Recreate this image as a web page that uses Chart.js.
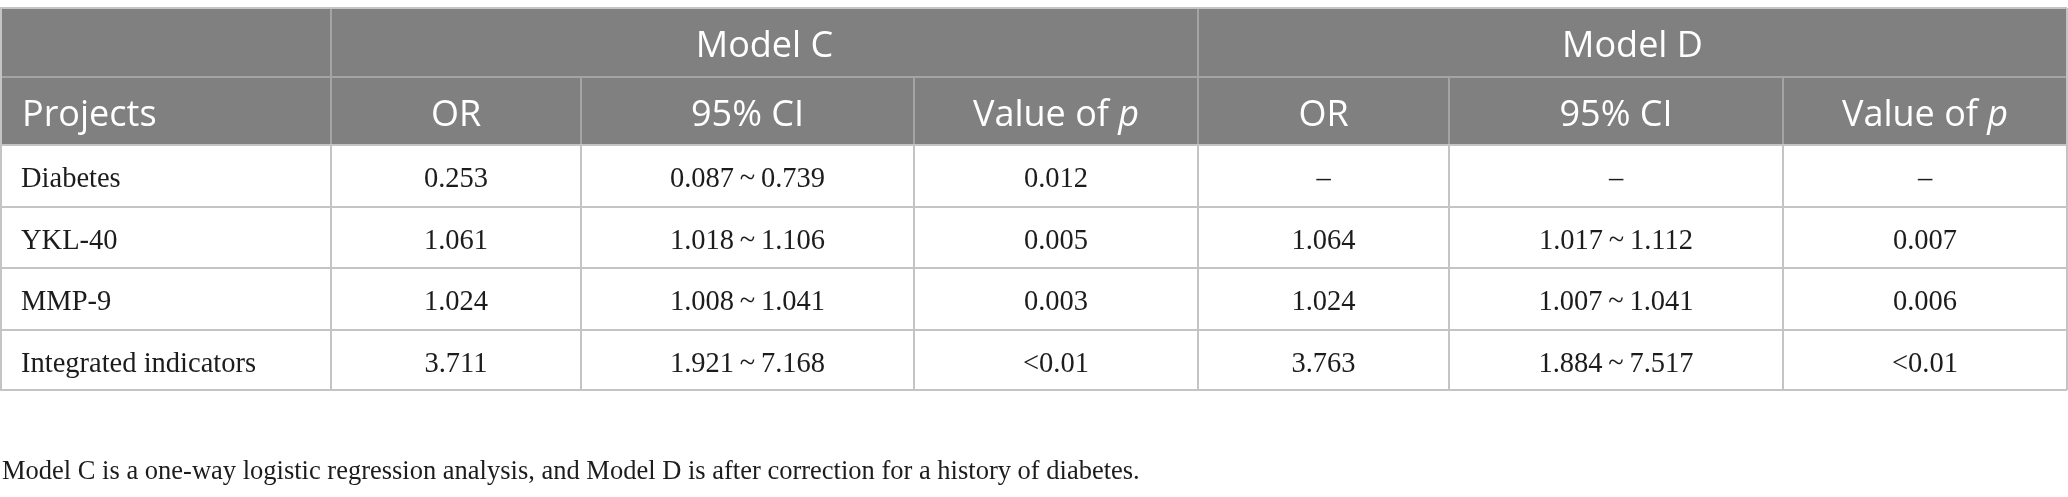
<!DOCTYPE html>
<html>
<head>
<meta charset="utf-8">
<script src="https://cdn.jsdelivr.net/npm/chart.js@4/dist/chart.umd.min.js"></script>
<style>
  html, body { margin: 0; padding: 0; background: #ffffff; }
  #wrap { position: relative; width: 2068px; height: 497px; }
</style>
</head>
<body>
<div id="wrap"><canvas id="c"></canvas></div>
<script>
// ---------- data ----------
const groupHeaders = ['Model C', 'Model D'];
const columnHeaders = ['Projects', 'OR', '95% CI', 'Value of p', 'OR', '95% CI', 'Value of p'];
const projects = ['Diabetes', 'YKL-40', 'MMP-9', 'Integrated indicators'];
const modelC_OR = [0.253, 1.061, 1.024, 3.711];
const modelC_CI_low = [0.087, 1.018, 1.008, 1.921];
const modelC_CI_high = [0.739, 1.106, 1.041, 7.168];
const modelC_p = ['0.012', '0.005', '0.003', '<0.01'];
const modelD_OR = [null, 1.064, 1.024, 3.763];
const modelD_CI_low = [null, 1.017, 1.007, 1.884];
const modelD_CI_high = [null, 1.112, 1.041, 7.517];
const modelD_p = ['–', '0.007', '0.006', '<0.01'];
const footnote = 'Model C is a one-way logistic regression analysis, and Model D is after correction for a history of diabetes.';

// ---------- layout (scale units) ----------
const COL_EDGES = [0, 331, 581, 914, 1198, 1449, 1783, 2067];
const ROW_EDGES = [8, 77, 145, 207, 268, 330, 390];
const HEADER_BG = '#7f807f';
const HEADER_LINE = '#a3a4a3';
const BODY_LINE = '#c4c4c4';
const SANS = '"Open Sans", "Noto Sans", sans-serif';
const SERIF = '"Liberation Serif", "DejaVu Serif", serif';
const HEAD_FONT = 36;
const BODY_FONT = 28.5;
const NOTE_FONT = 26.5;

const fmt = v => (v === null || v === undefined) ? '–' : v.toFixed(3);
const ci = (lo, hi) => (lo === null) ? '–' : fmt(lo) + '\u2009~\u2009' + fmt(hi);

const bodyRows = projects.map((p, i) => [
  p,
  fmt(modelC_OR[i]), ci(modelC_CI_low[i], modelC_CI_high[i]), modelC_p[i],
  fmt(modelD_OR[i]), ci(modelD_CI_low[i], modelD_CI_high[i]), modelD_p[i]
]);

const tablePlugin = {
  id: 'tableDraw',
  afterDraw(chart) {
    const ctx = chart.ctx;
    const xs = chart.scales.x, ys = chart.scales.y;
    const X = v => xs.getPixelForValue(v);
    const Y = v => ys.getPixelForValue(v);
    ctx.save();

    // header background
    ctx.fillStyle = HEADER_BG;
    ctx.fillRect(X(COL_EDGES[0]), Y(ROW_EDGES[0]), X(COL_EDGES[7]) - X(COL_EDGES[0]), Y(ROW_EDGES[2]) - Y(ROW_EDGES[0]));

    const hline = (y, x0, x1, color, w) => {
      ctx.strokeStyle = color; ctx.lineWidth = w;
      ctx.beginPath(); ctx.moveTo(X(x0), Y(y)); ctx.lineTo(X(x1), Y(y)); ctx.stroke();
    };
    const vline = (x, y0, y1, color, w) => {
      ctx.strokeStyle = color; ctx.lineWidth = w;
      ctx.beginPath(); ctx.moveTo(X(x), Y(y0)); ctx.lineTo(X(x), Y(y1)); ctx.stroke();
    };

    // header lines
    hline(ROW_EDGES[1], COL_EDGES[0], COL_EDGES[7], HEADER_LINE, 2);
    vline(COL_EDGES[1], ROW_EDGES[0], ROW_EDGES[2], HEADER_LINE, 2);
    vline(COL_EDGES[4], ROW_EDGES[0], ROW_EDGES[2], HEADER_LINE, 2);
    for (const c of [2, 3, 5, 6]) vline(COL_EDGES[c], ROW_EDGES[1], ROW_EDGES[2], HEADER_LINE, 2);

    // body lines
    for (let r = 2; r <= 6; r++) hline(ROW_EDGES[r], COL_EDGES[0], COL_EDGES[7], BODY_LINE, 2);
    for (let c = 1; c <= 6; c++) vline(COL_EDGES[c], ROW_EDGES[2], ROW_EDGES[6], BODY_LINE, 2);
    // outer border
    hline(ROW_EDGES[0], COL_EDGES[0], COL_EDGES[7], BODY_LINE, 2);
    vline(COL_EDGES[0] + 1, ROW_EDGES[0], ROW_EDGES[6], BODY_LINE, 2);
    vline(COL_EDGES[7], ROW_EDGES[0], ROW_EDGES[6], BODY_LINE, 2);

    const headFont = (italic) => (italic ? 'italic ' : '') + '400 ' + HEAD_FONT + 'px ' + SANS;

    // group header text
    ctx.fillStyle = '#ffffff';
    ctx.textBaseline = 'alphabetic';
    ctx.textAlign = 'center';
    ctx.font = headFont(false);
    groupHeaders.forEach((g, k) => {
      const x0 = COL_EDGES[1 + 3 * k], x1 = COL_EDGES[4 + 3 * k];
      ctx.fillText(g, (X(x0) + X(x1)) / 2, Y(ROW_EDGES[0] + 48.5));
    });

    // column header text
    columnHeaders.forEach((h, c) => {
      const yb = Y(ROW_EDGES[1] + 48.5);
      if (c === 0) {
        ctx.textAlign = 'left';
        ctx.font = headFont(false);
        ctx.fillText(h, X(COL_EDGES[0]) + 22, yb);
        return;
      }
      const cx = (X(COL_EDGES[c]) + X(COL_EDGES[c + 1])) / 2;
      if (h.endsWith(' p')) {
        const main = h.slice(0, -1);
        ctx.font = headFont(false);
        const w1 = ctx.measureText(main).width;
        ctx.font = headFont(true);
        const w2 = ctx.measureText('p').width;
        const start = cx - (w1 + w2) / 2;
        ctx.textAlign = 'left';
        ctx.font = headFont(false);
        ctx.fillText(main, start, yb);
        ctx.font = headFont(true);
        ctx.fillText('p', start + w1, yb);
      } else {
        ctx.textAlign = 'center';
        ctx.font = headFont(false);
        ctx.fillText(h, cx, yb);
      }
    });

    // body text
    ctx.fillStyle = '#1c1c1c';
    ctx.font = '400 ' + BODY_FONT + 'px ' + SERIF;
    bodyRows.forEach((row, r) => {
      const yb = Y(ROW_EDGES[2 + r] + 41.5);
      row.forEach((txt, c) => {
        if (c === 0) {
          ctx.textAlign = 'left';
          ctx.fillText(txt, X(COL_EDGES[0]) + 21, yb);
        } else {
          ctx.textAlign = 'center';
          ctx.fillText(txt, (X(COL_EDGES[c]) + X(COL_EDGES[c + 1])) / 2, yb);
        }
      });
    });

    // footnote
    ctx.textAlign = 'left';
    ctx.font = '400 ' + NOTE_FONT + 'px ' + SERIF;
    ctx.fillText(footnote, X(2), Y(479));
    ctx.restore();
  }
};

Chart.defaults.devicePixelRatio = 1;
new Chart(document.getElementById('c'), {
  type: 'scatter',
  data: { datasets: [{ data: [], pointRadius: 0 }] },
  options: {
    responsive: true,
    maintainAspectRatio: false,
    animation: false,
    devicePixelRatio: 1,
    layout: { padding: 0 },
    plugins: { legend: { display: false }, tooltip: { enabled: false }, title: { display: false } },
    scales: {
      x: { type: 'linear', min: 0, max: 2068, display: false },
      y: { type: 'linear', min: 0, max: 497, reverse: true, display: false }
    }
  },
  plugins: [tablePlugin]
});
</script>
</body>
</html>
